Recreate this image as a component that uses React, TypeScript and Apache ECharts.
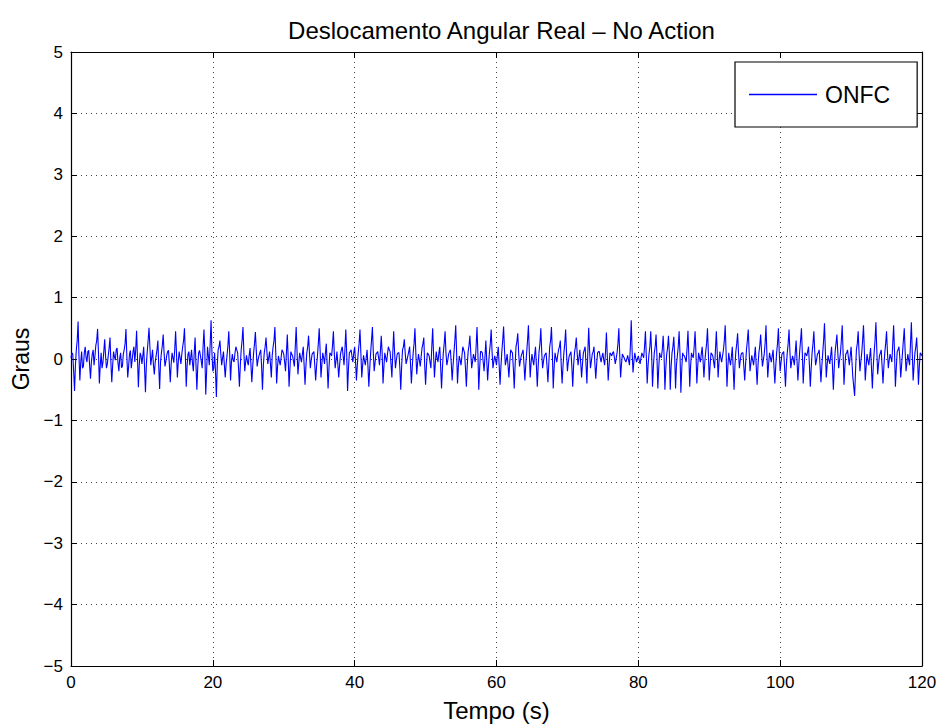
import React, { useEffect, useRef } from "react";
import * as echarts from "echarts";

const TITLE = "Deslocamento Angular Real \u2013 No Action";
const X_NAME = "Tempo (s)";
const Y_NAME = "Graus";
const SERIES_NAME = "ONFC";
const SAMPLE_STEP = 0.25; // seconds between main samples
const MID_OFFSET = 0.125; // intermediate samples sit halfway between main samples

// Angular displacement (degrees), main samples every 0.25 s, in 10 s chunks
const seg00 = [0.02,0.08,-0.52,0.15,0.61,-0.35,0.12,-0.12,0.2,-0.05,0.14,-0.32,0.08,-0.1,0.22,0.49,-0.4,0.1,-0.06,0.32,-0.15,0.05,0.35,-0.38,0.12,-0.02,0.18,-0.2,0.1,-0.12,0.15,0.49,-0.3,0.08,-0.15,0.12,-0.05,0.46,-0.46,0.1];
const seg10 = [-0.08,0.2,-0.54,0.12,0.51,-0.1,0.15,-0.25,0.05,0.3,-0.49,0.1,0.4,-0.12,0.06,0.14,-0.38,0.1,-0.06,0.45,-0.3,0.12,-0.08,0.2,0.5,-0.45,0.08,-0.1,0.15,-0.2,0.35,-0.5,0.1,0.05,-0.15,0.48,-0.58,0.2,-0.1,0.63];
const seg20 = [-0.2,0.1,-0.62,0.15,0.3,-0.1,0.12,-0.3,0.05,0.45,-0.35,0.08,-0.05,0.2,0.1,-0.45,0.15,0.52,-0.2,0.06,-0.1,0.18,-0.38,0.1,0.44,-0.12,0.05,0.15,-0.5,0.1,0.35,-0.08,0.12,-0.3,0.2,0.52,-0.4,0.05,-0.1,0.15];
const seg30 = [0.08,-0.2,0.4,-0.45,0.12,0.05,-0.12,0.52,-0.25,0.1,-0.05,0.2,-0.42,0.1,0.38,-0.15,0.08,0.12,-0.35,0.05,0.5,-0.3,0.1,-0.08,0.25,-0.48,0.1,0.05,0.45,-0.15,0.12,-0.3,0.08,0.2,-0.1,0.48,-0.52,0.1,0.15,-0.05];
const seg40 = [0.2,-0.35,0.1,0.48,-0.3,0.06,-0.1,0.15,-0.45,0.1,0.52,-0.2,0.08,0.12,-0.1,0.38,-0.4,0.1,-0.05,0.2,0.12,-0.3,0.45,-0.15,0.08,0.1,-0.5,0.15,0.32,-0.08,0.05,0.2,-0.4,0.1,0.5,-0.25,0.08,-0.12,0.18,0.35];
const seg50 = [-0.42,0.1,0.05,-0.15,0.5,-0.3,0.12,-0.05,0.2,-0.48,0.1,0.45,-0.1,0.08,0.15,-0.35,0.1,0.55,-0.4,0.05,-0.1,0.2,0.1,-0.45,0.12,0.38,-0.15,0.08,-0.05,0.52,-0.5,0.12,0.1,-0.2,0.3,-0.35,0.1,0.48,-0.15,0.05];
const seg60 = [-0.1,0.2,-0.42,0.12,0.53,-0.1,0.08,-0.3,0.15,0.1,-0.48,0.2,0.42,-0.12,0.06,0.15,-0.35,0.1,0.55,-0.3,0.08,-0.1,0.2,-0.45,0.12,0.5,-0.15,0.05,0.1,-0.38,0.2,0.52,-0.48,0.1,-0.05,0.15,0.3,-0.4,0.1,0.48];
const seg70 = [-0.2,0.05,0.12,-0.45,0.1,0.35,-0.1,0.15,-0.3,0.1,0.2,-0.4,0.51,-0.15,0.08,0.2,-0.32,0.1,0.12,-0.05,0.1,-0.1,0.43,-0.35,0.1,0.05,0.12,-0.08,0.1,0.5,-0.3,0.08,0.02,-0.05,0.06,-0.1,0.63,-0.22,0.1,-0.05];
const seg80 = [0.05,-0.08,0.1,0.02,0.45,-0.4,0.08,0.45,-0.45,0.1,0.4,-0.48,0.1,0.02,0.38,-0.5,0.08,0.38,-0.5,0.1,0.36,-0.48,0.05,0.45,-0.55,0.1,0.05,-0.05,0.46,-0.45,0.1,0.02,0.45,-0.4,0.1,-0.05,0.2,-0.3,0.12,0.5];
const seg90 = [-0.35,0.1,0.05,-0.15,0.45,-0.3,0.12,-0.05,0.15,0.55,-0.45,0.1,-0.1,0.2,-0.5,0.12,0.42,-0.15,0.08,0.1,-0.35,0.15,0.48,-0.2,0.06,-0.1,0.2,-0.42,0.1,0.4,-0.12,0.08,0.55,-0.3,0.1,-0.05,0.15,-0.4,0.1,0.5];
const seg100 = [-0.2,0.08,0.12,-0.45,0.1,0.48,-0.15,0.05,-0.1,0.3,-0.35,0.12,0.5,-0.4,0.1,0.05,0.2,-0.45,0.1,0.45,-0.1,0.08,0.15,-0.38,0.1,0.58,-0.3,0.06,-0.08,0.2,-0.5,0.12,0.4,-0.15,0.1,0.55,-0.42,0.08,0.15,-0.1];
const seg110 = [0.2,-0.3,-0.6,0.15,0.45,-0.2,0.1,0.55,-0.35,0.08,-0.1,0.18,-0.48,0.1,0.6,-0.25,0.05,0.15,-0.4,0.1,0.45,-0.15,0.08,-0.05,0.55,-0.45,0.12,0.2,-0.3,0.1,0.5,-0.2,0.08,-0.1,0.6,-0.35,0.1,0.35,-0.42,0.1];
const segEnd = [0.05];

// Intermediate small-jitter samples (between main samples), in 10 s chunks
const mid00 = [0.1,-0.2,-0.1,0.3,0.05,-0.05,-0.15,0.1,0.02,0.12,-0.1,-0.05,0.15,0.05,0.3,0.1,-0.1,-0.15,0.12,0.05,-0.08,0.18,-0.05,-0.1,0.04,0.15,-0.06,0.02,-0.14,0.08,0.25,0.05,-0.12,0.14,-0.02,0.2,0.15,0.02,-0.1,0.05];
const mid10 = [0.05,-0.15,-0.1,0.3,0.2,0.02,-0.1,-0.05,0.15,-0.12,-0.05,0.22,0.1,-0.04,0.12,-0.1,-0.08,0.02,0.15,0.1,-0.05,0.02,0.08,0.3,0.05,-0.1,0.12,0.02,-0.06,0.1,-0.1,-0.12,0.14,-0.04,0.2,0.1,-0.2,0.05,0.25,0.1];
const mid20 = [-0.15,-0.2,-0.1,0.2,0.08,0.02,-0.1,-0.08,0.22,0.1,-0.05,-0.02,0.1,0.15,-0.15,-0.1,0.3,0.12,-0.05,-0.04,0.06,-0.1,-0.12,0.25,0.14,-0.02,0.1,-0.12,-0.1,0.2,0.12,0.02,-0.08,0.06,0.3,0.1,-0.12,-0.03,0.02,0.12];
const mid30 = [-0.05,0.1,0.02,-0.15,0.08,-0.04,0.2,0.12,-0.06,0.02,0.08,-0.1,-0.12,0.2,0.1,-0.02,0.1,-0.1,-0.12,0.25,0.15,-0.08,0.02,0.1,-0.1,-0.15,0.08,0.22,0.1,-0.02,-0.08,-0.1,0.15,0.05,0.15,0.1,-0.15,0.12,0.04,0.1];
const mid40 = [-0.05,-0.1,0.25,0.1,-0.1,-0.02,0.02,-0.12,-0.15,0.3,0.12,-0.06,0.1,0.02,0.12,0.1,-0.12,0.02,0.08,0.15,-0.08,0.1,0.12,-0.02,0.1,-0.15,-0.12,0.2,0.1,-0.02,0.12,-0.08,-0.12,0.25,0.1,-0.06,-0.02,0.04,0.25,-0.1];
const mid50 = [-0.1,0.08,-0.05,0.2,0.08,-0.06,0.02,0.1,-0.12,-0.15,0.25,0.1,-0.02,0.12,-0.08,-0.1,0.3,0.12,-0.12,-0.02,0.05,0.15,-0.15,-0.1,0.22,0.1,-0.04,0.02,0.2,0.1,-0.15,0.12,-0.05,0.04,-0.02,-0.1,0.25,0.12,-0.04,-0.02];
const mid60 = [0.06,-0.1,-0.12,0.3,0.15,-0.02,-0.1,-0.05,0.12,-0.15,-0.1,0.28,0.1,-0.02,0.1,-0.08,-0.1,0.3,0.12,-0.06,-0.02,0.06,-0.1,-0.12,0.25,0.12,-0.04,0.08,-0.12,-0.08,0.3,0.1,-0.14,0.02,0.06,0.2,-0.1,-0.12,0.25,0.1];
const mid70 = [-0.05,0.08,-0.12,-0.1,0.2,0.1,0.02,-0.06,-0.08,0.15,-0.1,0.1,0.15,-0.04,0.12,-0.08,-0.08,0.12,0.02,0.04,-0.02,0.12,0.05,-0.1,0.08,0.1,0.02,0.01,0.25,0.08,-0.08,0.05,-0.02,0.0,-0.02,0.2,0.12,-0.04,0.02,0.0];
const mid80 = [-0.02,0.02,0.06,0.2,0.05,-0.1,0.2,0.1,-0.12,0.2,0.05,-0.15,0.04,0.15,0.08,-0.15,0.18,0.1,-0.12,0.2,0.05,-0.1,0.2,0.08,-0.15,0.06,0.0,0.18,0.05,-0.1,0.05,0.2,0.1,-0.12,0.02,0.08,-0.02,-0.05,0.25,0.1];
const mid90 = [-0.1,0.08,-0.05,0.15,0.1,-0.05,0.02,0.05,0.3,0.1,-0.12,-0.02,0.04,-0.15,-0.1,0.25,0.1,-0.02,0.1,-0.12,-0.08,0.3,0.12,-0.06,-0.02,0.05,-0.12,-0.1,0.22,0.12,-0.02,0.25,0.1,-0.08,0.02,0.05,-0.12,-0.12,0.25,0.1];
const mid100 = [-0.05,0.1,-0.15,-0.1,0.25,0.12,-0.04,-0.02,0.1,-0.02,-0.1,0.3,0.1,-0.1,0.08,0.12,-0.1,-0.15,0.25,0.12,-0.02,0.1,-0.1,-0.12,0.3,0.12,-0.1,-0.02,0.06,-0.12,-0.15,0.25,0.12,-0.02,0.3,0.1,-0.12,0.1,0.02,0.05];
const mid110 = [-0.05,-0.45,-0.2,0.25,0.1,-0.04,0.3,0.12,-0.12,-0.02,0.04,-0.15,-0.12,0.3,0.15,-0.08,0.1,-0.12,-0.12,0.25,0.12,-0.02,0.02,0.25,0.12,-0.15,0.15,0.02,-0.1,0.3,0.12,-0.06,-0.02,0.25,0.12,-0.12,0.2,0.02,-0.12,0.08];

const mainValues = [
  ...seg00, ...seg10, ...seg20, ...seg30, ...seg40, ...seg50,
  ...seg60, ...seg70, ...seg80, ...seg90, ...seg100, ...seg110, ...segEnd,
];
const midValues = [
  ...mid00, ...mid10, ...mid20, ...mid30, ...mid40, ...mid50,
  ...mid60, ...mid70, ...mid80, ...mid90, ...mid100, ...mid110,
];

const FONT = "'Liberation Sans', Arial, Helvetica, sans-serif";
const minus = (v: number) => String(v).replace("-", "\u2212");

export default function App() {
  const ref = useRef<HTMLDivElement>(null);
  useEffect(() => {
    document.body.style.margin = "0";
    document.body.style.overflow = "hidden";
    if (!ref.current) return;
    const chart = echarts.init(ref.current, null, { renderer: "svg" });
    const data: number[][] = [];
    mainValues.forEach((v, i) => {
      data.push([i * SAMPLE_STEP, v]);
      if (i < midValues.length && i < mainValues.length - 1) {
        data.push([i * SAMPLE_STEP + MID_OFFSET, midValues[i]]);
      }
    });
    const gridLine = { show: true, lineStyle: { color: "#444", type: [1, 4] as any, width: 1 } };
    const frameLine = { show: true, onZero: false, lineStyle: { color: "#000", width: 1.2 } };
    const frameTick = { show: true, inside: true, length: 6, lineStyle: { color: "#000" } };
    chart.setOption({
      animation: false,
      backgroundColor: "#fff",
      title: {
        text: TITLE,
        left: 496.5,
        textAlign: "center",
        top: 13,
        textStyle: { fontFamily: FONT, fontSize: 24, fontWeight: "normal", color: "#000" },
      },
      legend: {
        data: [{ name: SERIES_NAME, icon: "rect" }],
        left: 735,
        top: 62,
        orient: "vertical",
        itemWidth: 68,
        itemHeight: 1.5,
        itemGap: 0,
        padding: [21, 27, 21, 14],
        borderColor: "#000",
        borderWidth: 1.2,
        backgroundColor: "#fff",
        textStyle: { fontFamily: FONT, fontSize: 23, color: "#000", padding: [0, 0, 0, 3] },
      },
      grid: { left: 71, right: 20, top: 52, bottom: 59, containLabel: false },
      xAxis: [
        {
          type: "value",
          min: 0,
          max: 120,
          interval: 20,
          name: X_NAME,
          nameLocation: "middle",
          nameGap: 32,
          nameTextStyle: { fontFamily: FONT, fontSize: 24, color: "#000" },
          axisLine: frameLine,
          axisTick: frameTick,
          axisLabel: { fontFamily: FONT, fontSize: 17, color: "#000", margin: 8 },
          splitLine: gridLine,
        },
        {
          type: "value",
          position: "top",
          min: 0,
          max: 120,
          interval: 20,
          axisLine: frameLine,
          axisTick: frameTick,
          axisLabel: { show: false },
          splitLine: { show: false },
        },
      ],
      yAxis: [
        {
          type: "value",
          min: -5,
          max: 5,
          interval: 1,
          name: Y_NAME,
          nameLocation: "middle",
          nameGap: 32,
          nameTextStyle: { fontFamily: FONT, fontSize: 23, color: "#000" },
          axisLine: frameLine,
          axisTick: frameTick,
          axisLabel: { fontFamily: FONT, fontSize: 17, color: "#000", margin: 8, formatter: minus },
          splitLine: gridLine,
        },
        {
          type: "value",
          position: "right",
          min: -5,
          max: 5,
          interval: 1,
          axisLine: frameLine,
          axisTick: frameTick,
          axisLabel: { show: false },
          splitLine: { show: false },
        },
      ],
      series: [
        {
          name: SERIES_NAME,
          type: "line",
          data,
          showSymbol: false,
          symbol: "none",
          lineStyle: { color: "#0000ff", width: 1.1 },
          itemStyle: { color: "#0000ff" },
          xAxisIndex: 0,
          yAxisIndex: 0,
        },
      ],
    });
    return () => chart.dispose();
  }, []);
  return (
    <div
      ref={ref}
      style={{ width: 942, height: 727, position: "absolute", left: 0, top: 0, overflow: "hidden" }}
    />
  );
}
